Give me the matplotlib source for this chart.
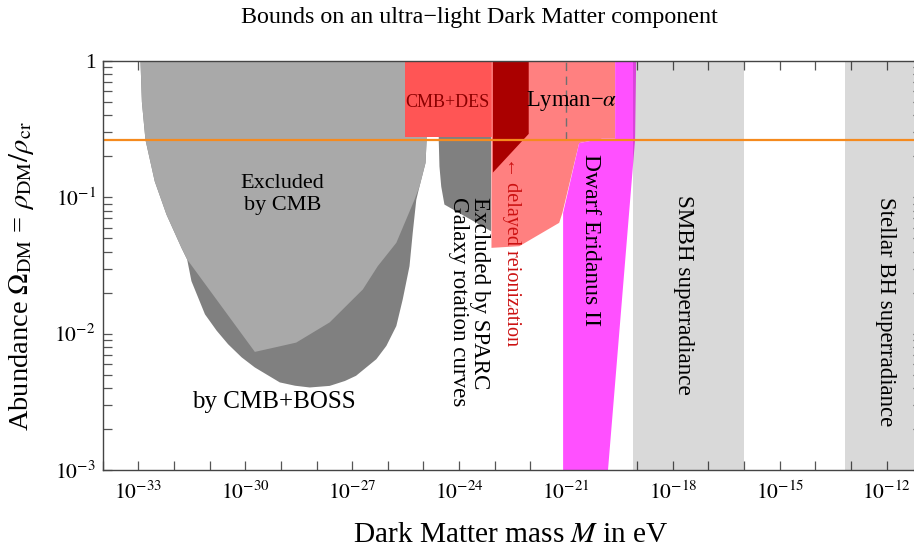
import numpy as np
import matplotlib
matplotlib.use('Agg')
import matplotlib.pyplot as plt
from matplotlib.ticker import FixedLocator, NullLocator, LogLocator, FuncFormatter

plt.rcParams['font.family'] = ['Liberation Serif', 'DejaVu Serif']
plt.rcParams['mathtext.fontset'] = 'stix'

# Bordes de las regiones: log10(M/eV) y Omega
cmb_logm = [-32.94, -32.90, -32.80, -32.54, -32.21, -31.79, -31.63, -29.73, -29.10, -28.57,
            -27.63, -26.70, -26.28, -25.76, -25.25, -25.11, -24.94, -24.91, -24.89]
cmb_omega = [1.0, 0.5, 0.264, 0.131, 0.0747, 0.0426, 0.035, 0.00735, 0.0080, 0.0086,
             0.0121, 0.0211, 0.0313, 0.0464, 0.096, 0.120, 0.179, 0.264, 1.0]

boss_logm = [-32.94, -32.90, -32.80, -32.54, -32.21, -31.79, -31.63, -31.51, -31.13,
             -30.80, -30.48, -30.10, -29.73, -29.03, -28.60, -28.19, -27.63, -27.20, -26.89,
             -26.32, -26.04, -25.76, -25.58, -25.39, -25.30, -25.20, -25.11, -24.94, -24.91,
             -24.89]
boss_omega = [1.0, 0.5, 0.264, 0.131, 0.0747, 0.0426, 0.035, 0.0243, 0.01386,
              0.0105, 0.00836, 0.0067, 0.00565, 0.00439, 0.00415, 0.00403, 0.00414, 0.0045,
              0.00491, 0.0065, 0.00813, 0.01138, 0.01786, 0.0313, 0.0548, 0.096, 0.120, 0.179,
              0.264, 1.0]

sparc_logm = [-24.57, -24.57, -24.55, -24.50, -24.41, -23.10, -23.10]
sparc_omega = [1.0, 0.264, 0.1686, 0.120, 0.0885, 0.0564, 1.0]

des_logm = [-25.53, -23.07, -23.07, -25.53]
des_omega = [1.0, 1.0, 0.275, 0.275]

lya_logm = [-23.09, -19.62, -19.62, -19.99, -20.63, -21.10, -21.19, -22.31, -23.09]
lya_omega = [1.0, 1.0, 0.269, 0.269, 0.25, 0.0769, 0.065, 0.0438, 0.0426]

reion_logm = [-23.05, -22.045, -22.045, -23.05]
reion_omega = [1.0, 1.0, 0.292, 0.152]

eri_logm = [-21.08, -21.08, -20.63, -19.99, -19.62, -19.62, -19.03, -19.06, -19.82]
eri_omega = [1e-3, 0.0769, 0.25, 0.269, 0.269, 1.0, 1.0, 0.264, 1e-3]

smbh_logm = [-19.13, -16.0]
stellar_logm = [-13.17, -10.0]

omega_dm = 0.265
lya_dash_logm = -21.0

x_decades = list(range(-34, -10))
y_decades = [-3, -2, -1, 0]

fig = plt.figure(figsize=(9.14, 5.51), dpi=100)
ax = fig.add_axes([102.7 / 914, (551 - 470) / 551, (922.3 - 102.7) / 914, (470 - 61) / 551])
ax.set_xscale('log')
ax.set_yscale('log')
ax.set_xlim(1e-34, 1e-11)
ax.set_ylim(1e-3, 1)


def region(logm, omega, color, z, **kw):
    ax.fill(10.0 ** np.array(logm), omega, color=color, lw=0, zorder=z, **kw)


region(boss_logm, boss_omega, '#808080', 1)
region(cmb_logm, cmb_omega, '#a9a9a9', 2)
region(sparc_logm, sparc_omega, '#808080', 2)
region(des_logm, des_omega, '#ff5555', 3)
region(lya_logm, lya_omega, '#ff8080', 3)
region(reion_logm, reion_omega, '#aa0000', 4)
region(eri_logm, eri_omega, '#ff50ff', 4)

ax.axvspan(10.0 ** smbh_logm[0], 10.0 ** smbh_logm[1], color='black', alpha=0.15, lw=0, zorder=5)
ax.axvspan(10.0 ** stellar_logm[0], 10.0 ** stellar_logm[1], color='black', alpha=0.15, lw=0, zorder=5)

ax.plot([10.0 ** lya_dash_logm] * 2, [omega_dm, 1], color='#707070', lw=1.0,
        ls=(0, (6, 4)), zorder=6)
ax.axhline(omega_dm, color='#f58a1e', lw=1.6, zorder=7)

# Etiquetas
ax.text(10 ** -28.95, 0.105, 'Excluded\nby CMB', ha='center', va='center', fontsize=16,
        linespacing=1.25, zorder=8)
ax.text(10 ** -29.20, 0.00315, 'by CMB+BOSS', ha='center', va='center', fontsize=18, zorder=8)
ax.text(10 ** -24.33, 0.50, 'CMB+DES', ha='center', va='center', fontsize=13,
        color='#8b0000', zorder=8)
ax.text(10 ** -20.83, 0.51, 'Lyman\u2212$\\alpha$', ha='center', va='center', fontsize=16.3, zorder=8)
ax.text(10 ** -22.535, 0.040, '\u2190 delayed reionization', rotation=-90, ha='center',
        va='center', fontsize=14.5, color='#cc1111', zorder=8)
ax.text(10 ** -23.72, 0.101, 'Excluded by SPARC\nGalaxy rotation curves', rotation=-90,
        ha='center', va='top', multialignment='left', linespacing=0.95, fontsize=16.6, zorder=8)
ax.text(10 ** -20.30, 0.049, 'Dwarf Eridanus II', rotation=-90, ha='center', va='center',
        fontsize=17, zorder=8)
ax.text(10 ** -17.69, 0.0191, 'SMBH superradiance', rotation=-90, ha='center', va='center',
        fontsize=16.7, zorder=8)
ax.text(10 ** -12.04, 0.0146, 'Stellar BH superradiance', rotation=-90, ha='center',
        va='center', fontsize=16.4, zorder=8)

# Ejes
ax.xaxis.set_major_locator(FixedLocator([10.0 ** d for d in x_decades]))
ax.xaxis.set_minor_locator(NullLocator())
ax.xaxis.set_major_formatter(FuncFormatter(
    lambda v, p: r'$10^{%d}$' % round(np.log10(v)) if round(np.log10(v)) % 3 == 0 else ''))
ax.yaxis.set_major_locator(FixedLocator([10.0 ** d for d in y_decades]))
ax.yaxis.set_minor_locator(LogLocator(base=10, subs=np.arange(2, 10)))
ax.yaxis.set_major_formatter(FuncFormatter(
    lambda v, p: '1' if round(np.log10(v)) == 0 else r'$10^{%d}$' % round(np.log10(v))))
ax.yaxis.set_minor_formatter(FuncFormatter(lambda v, p: ''))

ax.tick_params(which='both', direction='in', top=True, right=True, length=6.5,
               width=0.9, color='#555555', labelsize=15.5)
ax.tick_params(axis='x', pad=8)
ax.tick_params(axis='y', pad=5)
for s in ax.spines.values():
    s.set_color('#444444')
    s.set_linewidth(1.0)
    s.set_zorder(9)

fig.text(479 / 914, 1 - 17 / 551, 'Bounds on an ultra\u2212light Dark Matter component',
         ha='center', va='center', fontsize=17.3)
fig.text(511 / 914, 1 - 535 / 551, 'Dark Matter mass $M$ in eV', ha='center', va='center',
         fontsize=21.2)
fig.text(22 / 914, 1 - 276 / 551,
         r'Abundance $\Omega_{\rm DM}$ = $\rho_{\rm DM}/\rho_{\rm cr}$',
         rotation=90, ha='center', va='center', fontsize=20.5)

fig.savefig('out.png', dpi=100)
